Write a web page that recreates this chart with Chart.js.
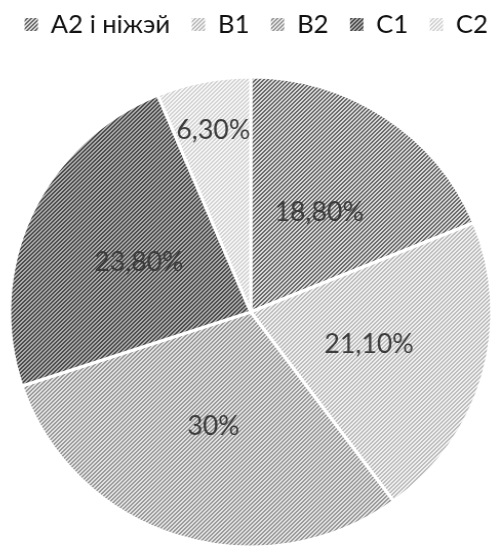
<!DOCTYPE html>
<html>
<head>
<meta charset="utf-8">
<script src="https://cdn.jsdelivr.net/npm/chart.js@4"></script>
<style>
  html, body { margin: 0; padding: 0; background: #fff; overflow: hidden; width: 494px; height: 547px; }
  #wrap { position: absolute; left: -57.2px; top: -9px; transform-origin: 0 0; transform: scaleX(1.0257); }
</style>
</head>
<body>
<div id="wrap"><canvas id="c" width="600" height="586"></canvas></div>
<script>
// Language level shares, percent
const categories = ['A2 і ніжэй', 'B1', 'B2', 'C1', 'C2'];
const shares = [18.8, 21.1, 30, 23.8, 6.3];

// Hatch colours for each slice: stripe and ground
const hatchStripe = ['#6a6a6a', '#bdbdbd', '#9a9a9a', '#4d4d4d', '#d4d4d4'];
const hatchGround = ['#d8d8d8', '#f0f0f0', '#e2e2e2', '#ababab', '#f6f6f6'];

const FONT = 'Lato, "Open Sans", sans-serif';

// Upward diagonal hatch on a small repeating tile
function hatch(stripe, ground) {
  const t = document.createElement('canvas');
  t.width = t.height = 4;
  const g = t.getContext('2d');
  g.fillStyle = ground;
  g.fillRect(0, 0, 4, 4);
  g.fillStyle = stripe;
  for (let x = 0; x < 4; x++) {
    for (let y = 0; y < 4; y++) {
      if ((x + y) % 4 < 2) g.fillRect(x, y, 1, 1);
    }
  }
  return g.createPattern(t, 'repeat');
}

const fills = categories.map((_, i) => hatch(hatchStripe[i], hatchGround[i]));

function fmt(v) {
  return (Number.isInteger(v) ? String(v) : v.toFixed(2).replace('.', ',')) + '%';
}

// Percent labels inside the slices; narrow slices get theirs nearer the rim
const sliceLabels = {
  id: 'sliceLabels',
  afterDatasetsDraw(chart) {
    const ctx = chart.ctx;
    const meta = chart.getDatasetMeta(0);
    const total = shares.reduce((a, b) => a + b, 0);
    ctx.save();
    ctx.font = '26px ' + FONT;
    ctx.fillStyle = '#3c3c3c';
    ctx.textAlign = 'center';
    ctx.textBaseline = 'alphabetic';
    meta.data.forEach((arc, i) => {
      const p = arc.getProps(['x', 'y', 'startAngle', 'endAngle', 'outerRadius'], true);
      const mid = (p.startAngle + p.endAngle) / 2;
      const f = shares[i] / total < 0.1 ? 0.79 : 0.51;
      const x = p.x + Math.cos(mid) * p.outerRadius * f;
      const y = p.y + Math.sin(mid) * p.outerRadius * f;
      ctx.fillText(fmt(shares[i]), x, y + 9);
    });
    ctx.restore();
  }
};

// Nudge the legend row a little to the right of the pie's centre line
const legendNudge = {
  id: 'legendNudge',
  afterLayout(chart) {
    if (chart.legend) {
      chart.legend.left += 5.4;
      chart.legend.right += 5.4;
    }
  }
};

new Chart(document.getElementById('c'), {
  type: 'pie',
  data: {
    labels: categories,
    datasets: [{
      data: shares,
      backgroundColor: fills,
      borderColor: '#ffffff',
      borderWidth: 3,
      radius: 235,
      hoverOffset: 0
    }]
  },
  options: {
    responsive: false,
    animation: false,
    events: [],
    layout: { padding: 0 },
    plugins: {
      tooltip: { enabled: false },
      legend: {
        position: 'top',
        align: 'center',
        labels: {
          font: { family: FONT, size: 25 },
          color: '#111111',
          boxWidth: 13,
          boxHeight: 13,
          padding: 21,
          generateLabels(chart) {
            const items = Chart.overrides.pie.plugins.legend.labels.generateLabels(chart);
            items.forEach(it => { it.lineWidth = 0; });
            return items;
          }
        }
      }
    }
  },
  plugins: [sliceLabels, legendNudge]
});
</script>
</body>
</html>
